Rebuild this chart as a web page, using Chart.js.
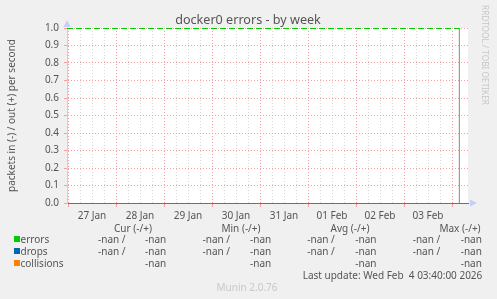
<!DOCTYPE html>
<html>
<head>
<meta charset="utf-8">
<script src="https://cdn.jsdelivr.net/npm/chart.js@4"></script>
<style>
  body { margin: 0; background: #f0f0f0; font-family: "Noto Sans", sans-serif; }
  #wrap { position: relative; width: 497px; height: 299px; overflow: hidden; }
  canvas { position: absolute; left: 0; top: 0; }
  .t { position: absolute; font-size: 10px; line-height: 12px; color: #555; white-space: pre; }
  .sq { position: absolute; width: 6px; height: 6px; }
  #titulo { position: absolute; left: 148px; width: 200px; top: 12px; text-align: center; font-size: 12.6px; line-height: 16px; color: #555; white-space: pre; }
  #rrd { position: absolute; left: 480px; top: 5px; writing-mode: vertical-rl; font-size: 8.3px; color: #c8c8c8; white-space: pre; }
</style>
</head>
<body>
<div id="wrap">
  <canvas id="grafico" width="497" height="299"></canvas>
  <div id="titulo">docker0 errors - by week</div>
  <div id="rrd">RRDTOOL / TOBI OETIKER</div>
  <div id="legenda"></div>
</div>
<script>
// eixo x: horas a partir de 27 Jan 00:00
const dayLabels = ['27 Jan', '28 Jan', '29 Jan', '30 Jan', '31 Jan', '01 Feb', '02 Feb', '03 Feb'];
const yTicks = [0.0, 0.1, 0.2, 0.3, 0.4, 0.5, 0.6, 0.7, 0.8, 0.9, 1.0];
const xMinHours = -0.5;
const xMaxHours = 200;
const lastUpdateHours = 195.67; // Wed Feb 4 03:40
const limitValues = [1.0, 1.0];

// legenda (tudo -nan)
const seriesNames = ['errors', 'drops', 'collisions'];
const seriesColors = ['#00cc00', '#0066b3', '#ff8000'];
const curValues = [['-nan /', '-nan'], ['-nan /', '-nan'], ['', '-nan']];
const minValues = [['-nan /', '-nan'], ['-nan /', '-nan'], ['', '-nan']];
const avgValues = [['-nan /', '-nan'], ['-nan /', '-nan'], ['', '-nan']];
const maxValues = [['-nan /', '-nan'], ['-nan /', '-nan'], ['', '-nan']];
const columnHeaders = ['Cur (-/+)', 'Min (-/+)', 'Avg (-/+)', 'Max (-/+)'];
const lastUpdate = 'Last update: Wed Feb  4 03:40:00 2026';
const muninVersion = 'Munin 2.0.76';

function montarLegenda() {
  const leg = document.getElementById('legenda');
  const add = (txt, x, yc, color, align) => {
    const d = document.createElement('div');
    d.className = 't';
    d.textContent = txt;
    d.style.top = (yc - 6) + 'px';
    if (align === 'center') {
      d.style.left = (x - 100) + 'px';
      d.style.width = '200px';
      d.style.textAlign = 'center';
    } else {
      d.style.left = x + 'px';
    }
    if (color) d.style.color = color;
    leg.appendChild(d);
  };
  const headerX = [133, 241, 350, 460];
  columnHeaders.forEach((h, i) => add(h, headerX[i], 227.5, null, 'center'));
  const rowY = [239.3, 251, 263.3];
  const colX = [[98, 145], [202.5, 250], [307.3, 355.3], [412.7, 460.7]];
  const cols = [curValues, minValues, avgValues, maxValues];
  seriesNames.forEach((name, r) => {
    const sq = document.createElement('div');
    sq.className = 'sq';
    sq.style.left = '14px';
    sq.style.top = (rowY[r] - 3) + 'px';
    sq.style.background = seriesColors[r];
    leg.appendChild(sq);
    add(name, 20.5, rowY[r]);
    cols.forEach((c, ci) => {
      if (c[r][0]) add(c[r][0], colX[ci][0], rowY[r]);
      add(c[r][1], colX[ci][1], rowY[r]);
    });
  });
  add(lastUpdate, 302.7, 275);
  add(muninVersion, 247, 286.5, '#c8c8c8', 'center');
}

const fundoBranco = {
  id: 'fundoBranco',
  beforeDraw(chart) {
    const { ctx, chartArea: a } = chart;
    ctx.save();
    ctx.fillStyle = '#ffffff';
    ctx.fillRect(a.left, a.top, a.right - a.left, a.bottom - a.top);
    ctx.restore();
  },
  afterDraw(chart) {
    const { ctx, chartArea: a } = chart;
    ctx.save();
    ctx.fillStyle = '#c8ccf8';
    // seta do eixo y
    ctx.beginPath();
    ctx.moveTo(a.left - 3.5, a.top - 1);
    ctx.lineTo(a.left + 3.5, a.top - 1);
    ctx.lineTo(a.left, a.top - 8);
    ctx.closePath();
    ctx.fill();
    // seta do eixo x
    ctx.beginPath();
    ctx.moveTo(a.right + 2, a.bottom - 3.5);
    ctx.lineTo(a.right + 2, a.bottom + 3.5);
    ctx.lineTo(a.right + 9, a.bottom);
    ctx.closePath();
    ctx.fill();
    ctx.restore();
  }
};

function gerarGrafico() {
  const ctx = document.getElementById('grafico').getContext('2d');
  new Chart(ctx, {
    type: 'line',
    data: {
      datasets: [{
        label: 'limit',
        data: [{ x: xMinHours, y: limitValues[0] }, { x: lastUpdateHours, y: limitValues[1] }],
        borderColor: '#00cc00',
        borderWidth: 2,
        borderDash: [6, 3],
        pointRadius: 0,
        fill: false
      }, {
        label: 'now',
        data: [{ x: lastUpdateHours, y: 0 }, { x: lastUpdateHours, y: 1 }],
        borderColor: '#8a8a8a',
        borderWidth: 1,
        pointRadius: 0,
        fill: false
      }]
    },
    options: {
      responsive: false,
      animation: false,
      layout: { padding: { left: 0, right: 29, top: 28, bottom: 0 } },
      plugins: {
        legend: { display: false },
        tooltip: { enabled: false },
        title: { display: false }
      },
      scales: {
        x: {
          type: 'linear',
          min: xMinHours,
          max: xMaxHours,
          afterFit(scale) { scale.height = 96; },
          afterBuildTicks(scale) {
            const t = [];
            for (let h = 0; h <= dayLabels.length * 24; h += 6) t.push({ value: h });
            scale.ticks = t;
          },
          ticks: {
            autoSkip: false,
            maxRotation: 0,
            color: '#555',
            font: { family: 'Noto Sans', size: 10 },
            padding: 3,
            callback: (v) => (v % 24 === 12 ? dayLabels[(v - 12) / 24] : '')
          },
          grid: {
            color: (c) => (c.tick && c.tick.value % 24 === 0 ? '#f0a0a0' : '#d8d8d8'),
            tickColor: (c) => (c.tick && c.tick.value % 24 === 0 ? '#f0a0a0' : 'rgba(0,0,0,0)'),
            tickLength: 4,
            borderDash: [1, 2]
          },
          border: { color: '#707070', width: 1, dash: [1, 2] }
        },
        y: {
          min: 0,
          max: 1,
          afterFit(scale) { scale.width = 67; },
          afterBuildTicks(scale) { scale.ticks = yTicks.map(v => ({ value: v })); },
          ticks: {
            color: '#555',
            font: { family: 'Noto Sans', size: 10 },
            padding: 5,
            callback: (v) => v.toFixed(1)
          },
          grid: {
            color: '#f0a0a0',
            tickColor: '#f0a0a0',
            tickLength: 3,
            borderDash: [1, 2]
          },
          border: { color: '#c8ccf8', width: 1, dash: [1, 2] },
          title: {
            display: true,
            text: 'packets in (-) / out (+) per second',
            color: '#555',
            font: { family: 'Noto Sans', size: 10 },
            padding: { top: 6, bottom: 0 }
          }
        }
      }
    },
    plugins: [fundoBranco]
  });
}

gerarGrafico();
montarLegenda();
</script>
</body>
</html>
